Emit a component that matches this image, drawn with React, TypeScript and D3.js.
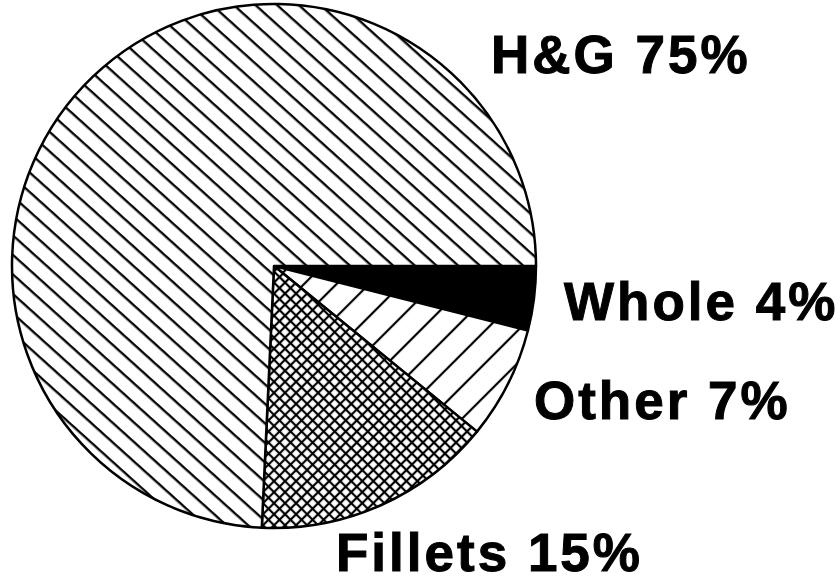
import React from 'react';
import * as d3 from 'd3';

// slices, in drawing order clockwise from 3 o'clock
const categories = ['Whole', 'Other', 'Fillets', 'H&G'];
const shares = [4, 7, 15, 75];
const labels = ['Whole 4%', 'Other 7%', 'Fillets 15%', 'H&G 75%'];
const fills = ['#000', 'url(#hatchOther)', 'url(#hatchCross)', 'url(#hatchHG)'];

// where each label sits (left edge, baseline)
const labelPos: [number, number][] = [
    [564, 320],
    [534, 419],
    [336, 571],
    [491, 73],
];

const W = 840;
const H = 582;
const cx = 274;
const cy = 266;
const radius = 262;

const App = () => {
    const pie = d3.pie<number>()
        .sort(null)
        .value((d) => d)
        .startAngle(Math.PI / 2)
        .endAngle(Math.PI / 2 + 2 * Math.PI);

    const arc = d3.arc<d3.PieArcDatum<number>>()
        .innerRadius(0)
        .outerRadius(radius);

    const slices = pie(shares);

    return (
        <svg width={W} height={H} style={{position: 'fixed', left: 0, top: 0, background: '#fff'}}>
            <defs>
                <pattern id="hatchHG" patternUnits="userSpaceOnUse" width={14.5} height={14.5}
                         patternTransform="rotate(42)">
                    <rect width={14.5} height={14.5} fill="#fff"/>
                    <line x1={0} y1={7} x2={14.5} y2={7} stroke="#000" strokeWidth={2.3}/>
                </pattern>
                <pattern id="hatchOther" patternUnits="userSpaceOnUse" width={23} height={23}
                         patternTransform="rotate(45)">
                    <rect width={23} height={23} fill="#fff"/>
                    <line x1={11} y1={0} x2={11} y2={23} stroke="#000" strokeWidth={2.2}/>
                </pattern>
                <pattern id="hatchCross" patternUnits="userSpaceOnUse" width={7.8} height={7.8}
                         patternTransform="rotate(45)">
                    <rect width={7.8} height={7.8} fill="#fff"/>
                    <line x1={3.9} y1={0} x2={3.9} y2={7.8} stroke="#000" strokeWidth={2.2}/>
                    <line x1={0} y1={3.9} x2={7.8} y2={3.9} stroke="#000" strokeWidth={2.2}/>
                </pattern>
            </defs>
            <g transform={`translate(${cx},${cy})`}>
                {slices.map((s, i) => (
                    <path key={categories[i]} d={arc(s) || ''} fill={fills[i]}
                          stroke="#000" strokeWidth={2.5} strokeLinejoin="round"/>
                ))}
            </g>
            {labels.map((t, i) => (
                <text key={t} x={labelPos[i][0]} y={labelPos[i][1]}
                      fontFamily="'Liberation Sans', Arial, sans-serif" fontWeight={700}
                      fontSize={53} letterSpacing={3} fill="#000"
                      stroke="#000" strokeWidth={1}>
                    {t}
                </text>
            ))}
        </svg>
    );
};

export default App;
